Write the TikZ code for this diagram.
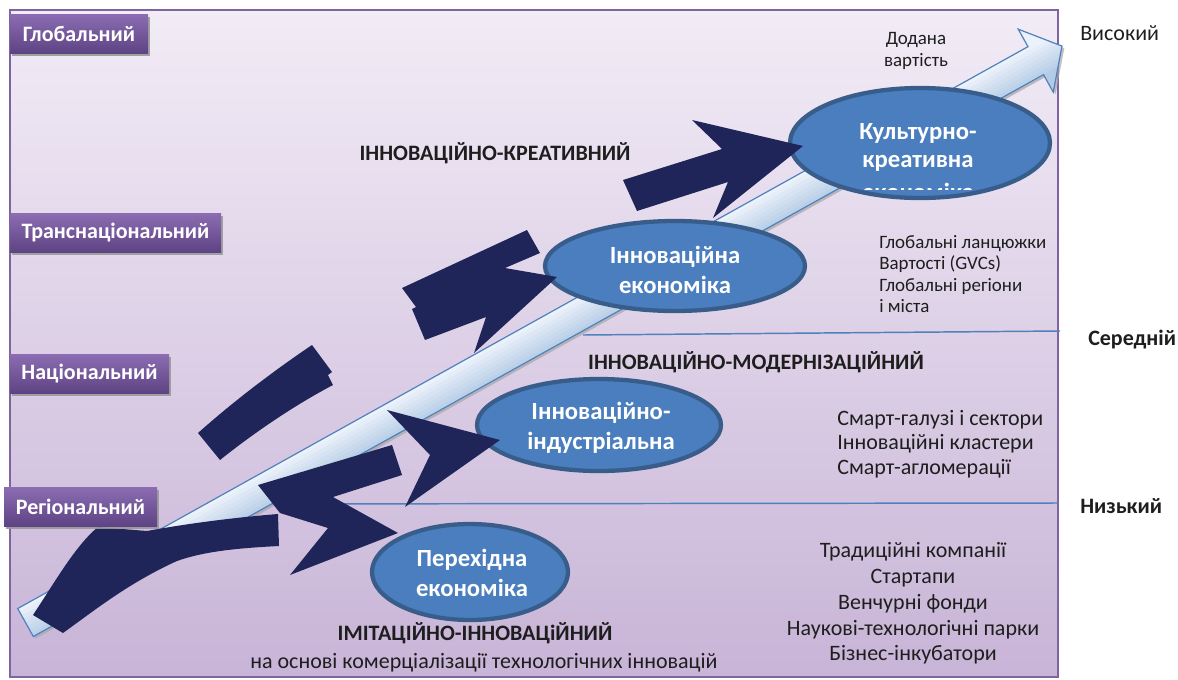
\documentclass[tikz,border=0pt]{standalone}
\usepackage{fontspec}
\setmainfont{Carlito}
\usetikzlibrary{shapes.geometric,shadows}
\definecolor{bgtop}{RGB}{242,236,246}
\definecolor{bgbot}{RGB}{200,180,215}
\definecolor{framec}{RGB}{128,100,162}
\definecolor{lbltop}{RGB}{140,108,178}
\definecolor{lblbot}{RGB}{94,68,132}
\definecolor{navy}{RGB}{31,37,88}
\definecolor{ellfill}{RGB}{74,126,190}
\definecolor{elldraw}{RGB}{56,93,138}
\definecolor{linec}{RGB}{79,129,189}
\definecolor{txt}{RGB}{30,30,30}
\definecolor{arrlight}{RGB}{236,242,250}
\definecolor{arrdark}{RGB}{180,203,230}
\tikzset{
  lvl/.style={rectangle, inner sep=0pt, top color=lbltop, bottom color=lblbot, text=white,
    font=\bfseries\fontsize{16.5}{18}\selectfont,
    drop shadow={shadow xshift=1.5pt, shadow yshift=-2.5pt, fill=black!40, opacity=0.9}},
  ell/.style={ellipse, inner sep=0pt, fill=ellfill, draw=elldraw, line width=3.2pt},
  elltxt/.style={inner sep=0pt, text=white, align=center, font=\bfseries\fontsize{18.5}{22.5}\selectfont},
  body/.style={inner sep=0pt, text=txt, font=\fontsize{16.5}{18.4}\selectfont},
  small/.style={inner sep=0pt, text=txt, font=\fontsize{14.2}{16}\selectfont},
  caps/.style={inner sep=0pt, text=txt, font=\bfseries\fontsize{16.5}{18}\selectfont},
  hline/.style={linec, line width=1.1pt},
  dark/.style={fill=navy}
}
\begin{document}
\begin{tikzpicture}[x=0.75pt,y=-0.75pt]
\useasboundingbox (0,0) rectangle (1178,679);
% frame
\shade[top color=bgtop, bottom color=bgbot] (10,10) rectangle (1058,677);
\draw[framec, line width=1.3pt] (10,10) rectangle (1058,677);
% level lines
\coordinate (m1) at (583,335);
\coordinate (m2) at (1060,331);
\coordinate (l1) at (240,504);
\coordinate (l2) at (1058,503);
\draw[hline] (m1) -- (m2);
\draw[hline] (l1) -- (l2);
% big light arrow
\begin{scope}[shift={(25.5,622.5)}, rotate=29.08]
  \fill[black!35, opacity=0.7] (1,-13) -- (1157,-13) -- (1157,-33) -- (1187,3) -- (1157,39) -- (1157,19) -- (1,19) -- cycle;
  \begin{scope}
    \clip (0,-16) -- (1156,-16) -- (1156,-36) -- (1186,0) -- (1156,36) -- (1156,16) -- (0,16) -- cycle;
    \foreach \i in {0,...,20} {
      \pgfmathsetmacro\t{min(100,max(0,(-40+4*\i+16)*100/32))}
      \fill[arrdark!\t!arrlight] (-5,{-40+4*\i}) -- (1200,{-40+4*\i}) -- (1200,{-35.5+4*\i}) -- (-5,{-35.5+4*\i}) -- cycle;
    }
  \end{scope}
  \draw[linec, line width=0.9pt, line join=miter] (0,-16) -- (1156,-16) -- (1156,-36) -- (1186,0) -- (1156,36) -- (1156,16) -- (0,16) -- cycle;
\end{scope}
% ellipses
\node[ell, minimum width=195pt, minimum height=82.5pt] (kce) at (920,143) {};
\node[ell, minimum width=195pt, minimum height=67.5pt] (ie) at (675,266) {};
\node[ell, minimum width=183pt, minimum height=69pt] (iie) at (599,425) {};
\node[ell, minimum width=147pt, minimum height=72pt] (pe) at (470,572) {};
\node[elltxt] (kce1) at (918,133) {Культурно-};
\node[elltxt] (kce2) at (918,163) {креативна};
\begin{scope}
  \clip (840,178) rectangle (1000,189);
  \node[elltxt] (kce3) at (918,192) {економіка};
\end{scope}
\node[elltxt] (iet) at (675,270) {Інноваційна\\економіка};
\node[elltxt] (iiet) at (601,428) {Інноваційно-\\індустріальна};
\node[elltxt] (pet) at (472,573) {Перехідна\\економіка};
% dark arrows
\fill[dark] (33,615) .. controls (55,582) and (75,546) .. (98,527) -- (147,531)
  .. controls (190,523) and (240,517) .. (278,514) -- (279,546)
  .. controls (240,548) and (205,551) .. (177,561)
  .. controls (130,582) and (95,610) .. (63,633) -- cycle;
\fill[dark] (258,485) -- (392,445) -- (402,475) -- (333,497) -- (398,533) -- (290,575) -- (328,528) -- (280,513) -- cycle;
\fill[dark] (387,410) -- (500,440) -- (405,507) -- (430,455) -- cycle;
\fill[dark] (198,433) .. controls (235,400) and (275,370) .. (312,345) -- (332,372) -- (328,375) -- (333,385)
  .. controls (295,405) and (255,432) .. (220,460) -- cycle;
\fill[dark] (402,288) -- (527,230) -- (540,253) -- (505,268) -- (557,277) -- (474,353) -- (486,317) -- (425,340) -- (412,309) -- (416,307) -- cycle;
\fill[dark] (623,180) -- (722,149) -- (692,120) -- (803,146) -- (713,218) -- (728,182) -- (637,211) -- cycle;
% level labels
\node[lvl, minimum width=103.5pt, minimum height=29.25pt] (glob) at (79,33.5) {Глобальний};
\node[lvl, minimum width=158.25pt, minimum height=29.25pt] (trans) at (115.5,232.5) {Транснаціональний};
\node[lvl, minimum width=119.25pt, minimum height=29.25pt] (nat) at (89.5,373.5) {Національний};
\node[lvl, minimum width=114.75pt, minimum height=29.25pt] (reg) at (80.5,506.5) {Регіональний};
% right labels
\node[body, anchor=west] (vys) at (1080,33) {Високий};
\node[caps, anchor=west] (ser) at (1088,340) {Середній};
\node[caps, anchor=west] (nyz) at (1080,506) {Низький};
% captions
\node[caps] (ik) at (495,153) {ІННОВАЦІЙНО-КРЕАТИВНИЙ};
\node[caps] (im) at (756,362) {ІННОВАЦІЙНО-МОДЕРНІЗАЦІЙНИЙ};
\node[caps] (ii) at (475,633) {ІМІТАЦІЙНО-ІННОВАЦіЙНИЙ};
\node[body] (osn) at (484,663) {на основі комерціалізації технологічних інновацій};
% side texts
\node[small, align=center] (dv) at (916,51) {Додана\\вартість};
\node[small, align=left, anchor=west] (gl) at (879,274) {Глобальні ланцюжки\\Вартості (GVCs)\\Глобальні регіони\\і міста};
\node[body, align=left, anchor=west, font=\fontsize{16.5}{18.4}\selectfont] (sm) at (837,444) {Смарт-галузі і сектори\\Інноваційні кластери\\Смарт-агломерації};
\node[body, align=center, font=\fontsize{16.5}{19.3}\selectfont] (tr) at (913,603.5) {Традиційні компанії\\Стартапи\\Венчурні фонди\\Наукові-технологічні парки\\Бізнес-інкубатори};
\end{tikzpicture}
\end{document}
